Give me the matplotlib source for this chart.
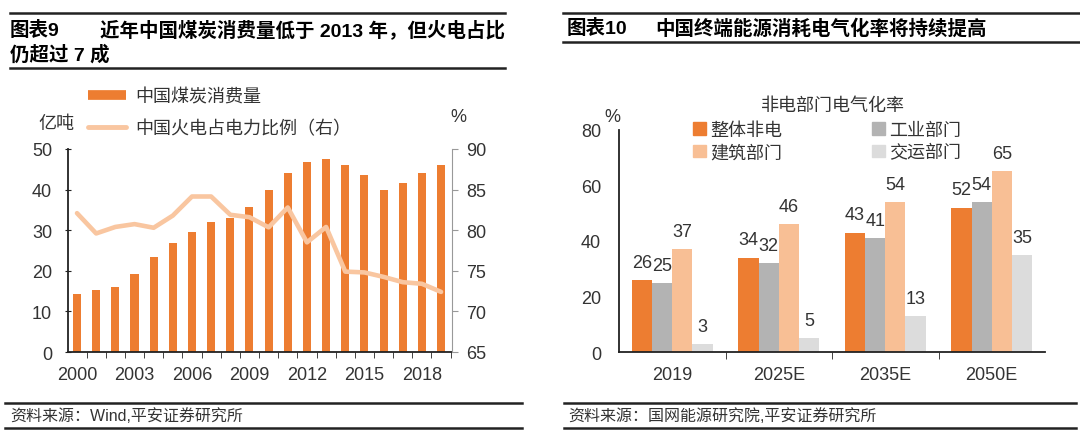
import matplotlib
matplotlib.use('Agg')
import matplotlib.pyplot as plt
import numpy as np
from matplotlib.lines import Line2D
from matplotlib.patches import Patch

plt.rcParams['font.family'] = ['Liberation Sans', 'Noto Sans CJK SC']

# 图表9 数据
years = list(range(2000, 2020))
coal = [14.4, 15.2, 16.0, 19.1, 23.4, 26.8, 29.6, 32.0, 33.1, 35.8,
        39.8, 44.0, 46.7, 47.5, 46.1, 43.6, 39.8, 41.7, 44.0, 46.1]
thermal_share = [82.1, 79.6, 80.4, 80.75, 80.3, 81.8, 84.15, 84.15, 81.9, 81.6,
                 80.35, 82.8, 78.5, 80.4, 74.9, 74.8, 74.25, 73.6, 73.4, 72.4]
year_labels = ['2000', '2003', '2006', '2009', '2012', '2015', '2018']

# 图表10 数据
periods = ['2019', '2025E', '2035E', '2050E']
sectors = ['整体非电', '工业部门', '建筑部门', '交运部门']
overall = [26, 34, 43, 52]
industry = [25, 32, 41, 54]
building = [37, 46, 54, 65]
transport = [3, 5, 13, 35]

ORANGE = '#ED7D31'
PEACH = '#F8BF95'
LINE_PEACH = '#F9C6A0'
GRAY = '#B3B3B3'
LIGHT = '#DCDCDC'
TXT = '#333333'

W, H = 1080, 435


def fx(px):
    return px / W


def fy(py):
    return 1 - py / H


def rule(x0, x1, y, lw=1.8):
    fig.add_artist(Line2D([fx(x0), fx(x1)], [fy(y), fy(y)],
                          transform=fig.transFigure, color='#222222', lw=lw))


fig = plt.figure(figsize=(W / 100, H / 100), dpi=100)

# ---- 标题与脚注 ----
rule(10, 505, 14)
rule(10, 505, 69)
fig.text(fx(10), fy(30), '图表9', fontsize=14, fontweight='bold', va='center')
fig.text(fx(100), fy(30), '近年中国煤炭消费量低于 2013 年，但火电占比',
         fontsize=14, fontweight='bold', va='center')
fig.text(fx(10), fy(55), '仍超过 7 成', fontsize=14, fontweight='bold', va='center')

rule(563, 1080, 14)
rule(563, 1080, 43)
fig.text(fx(567), fy(29), '图表10', fontsize=14, fontweight='bold', va='center')
fig.text(fx(655), fy(29), '中国终端能源消耗电气化率将持续提高',
         fontsize=14, fontweight='bold', va='center')

rule(5, 522, 404)
rule(5, 522, 429)
fig.text(fx(10), fy(416), '资料来源：Wind,平安证券研究所', fontsize=11.5,
         color='#333333', va='center')
rule(564, 1076, 404)
rule(564, 1076, 429)
fig.text(fx(568), fy(416), '资料来源：国网能源研究院,平安证券研究所', fontsize=11.5,
         color='#333333', va='center')

# ---- 图表9 ----
ax1 = fig.add_axes([fx(68), fy(353), (452 - 68) / W, (353 - 150) / H])
x = np.arange(len(years))
ax1.bar(x, coal, width=0.42, color=ORANGE, zorder=2)
ax1.set_xlim(-0.47, 19.57)
ax1.set_ylim(0, 50)
ax1.set_yticks(range(0, 51, 10))
ax1.set_xticks(x[::3])
ax1.set_xticklabels(year_labels)
ax1.set_xticks(np.arange(0.5, 19.6, 1), minor=True)
ax1.tick_params(axis='x', which='major', length=0, pad=10, labelsize=13, labelcolor=TXT)
ax1.tick_params(axis='x', which='minor', length=4, direction='out', color='#222222')
ax1.tick_params(axis='y', length=5, direction='inout', pad=9, labelsize=13,
                labelcolor=TXT, color='#222222')
for s in ['top', 'right']:
    ax1.spines[s].set_visible(False)
for s in ['left', 'bottom']:
    ax1.spines[s].set_color('#222222')
    ax1.spines[s].set_linewidth(1.3)

ax2 = ax1.twinx()
ax2.plot(x, thermal_share, color=LINE_PEACH, lw=3.3, solid_joinstyle='round',
         solid_capstyle='round')
ax2.set_ylim(65, 90)
ax2.set_yticks(range(65, 91, 5))
ax2.tick_params(axis='y', length=4, direction='out', pad=6, labelsize=13,
                labelcolor=TXT, color='#999999')
for s in ['top', 'left', 'bottom']:
    ax2.spines[s].set_visible(False)
ax2.spines['right'].set_color('#999999')

fig.text(fx(56), fy(125), '亿吨', fontsize=13, color=TXT, ha='center', va='center')
fig.text(fx(458), fy(117), '%', fontsize=13, color=TXT, ha='center', va='center')

leg1_handles = [Line2D([], [], color=ORANGE, lw=7, solid_capstyle='butt'),
                Line2D([], [], color=LINE_PEACH, lw=3.5, solid_capstyle='round')]
fig.legend(leg1_handles, ['中国煤炭消费量', '中国火电占电力比例（右）'],
           loc='upper left', bbox_to_anchor=(fx(88), fy(89)),
           bbox_transform=fig.transFigure, frameon=False, fontsize=13,
           handlelength=2.1, handletextpad=0.5, labelspacing=0.8,
           borderpad=0, borderaxespad=0, labelcolor=TXT)

# ---- 图表10 ----
ax3 = fig.add_axes([fx(619), fy(353), (1045 - 619) / W, (353 - 130.7) / H])
gx = np.arange(len(periods))
bw = 0.19
series = [overall, industry, building, transport]
colors = [ORANGE, GRAY, PEACH, LIGHT]
for i, (vals, c) in enumerate(zip(series, colors)):
    pos = gx + (i - 1.5) * bw
    ax3.bar(pos, vals, width=bw, color=c, zorder=2)
    for px_, v in zip(pos, vals):
        ax3.annotate(str(v), (px_, v), xytext=(0, 6.5), textcoords='offset points',
                     ha='center', va='bottom', fontsize=13, color=TXT)
ax3.set_xlim(-0.5, 3.5)
ax3.set_ylim(0, 80)
ax3.set_yticks(range(0, 81, 20))
ax3.set_xticks(gx)
ax3.set_xticklabels(periods)
ax3.set_xticks([0.5, 1.5, 2.5], minor=True)
ax3.tick_params(axis='x', which='major', length=0, pad=10, labelsize=13, labelcolor=TXT)
ax3.tick_params(axis='x', which='minor', length=5, direction='out', color='#222222')
ax3.tick_params(axis='y', length=0, pad=13, labelsize=13, labelcolor=TXT)
for s in ['top', 'right']:
    ax3.spines[s].set_visible(False)
for s in ['left', 'bottom']:
    ax3.spines[s].set_color('#222222')
    ax3.spines[s].set_linewidth(1.3)

fig.text(fx(612), fy(117), '%', fontsize=13, color=TXT, ha='center', va='center')
fig.text(fx(833), fy(106), '非电部门电气化率', fontsize=13, color=TXT,
         ha='center', va='center')

leg2_handles = [Patch(color=ORANGE), Patch(color=PEACH), Patch(color=GRAY), Patch(color=LIGHT)]
ax3.legend(leg2_handles, ['整体非电', '建筑部门', '工业部门', '交运部门'], ncol=2,
           loc='upper left', bbox_to_anchor=(fx(693), fy(123)),
           bbox_transform=fig.transFigure, frameon=False, fontsize=13,
           handlelength=0.7, handleheight=0.7, handletextpad=0.25,
           columnspacing=5.0, labelspacing=0.3, borderpad=0, borderaxespad=0,
           labelcolor=TXT)

fig.savefig('out.png', dpi=100)
